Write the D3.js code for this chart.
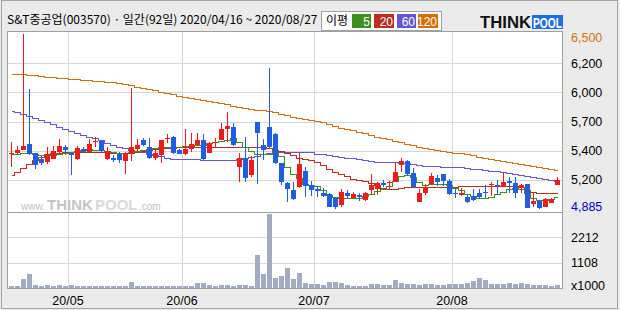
<!DOCTYPE html>
<html><head><meta charset="utf-8">
<script src="https://cdn.jsdelivr.net/npm/d3@7"></script>
<style>body{margin:0;background:#ebebeb;}svg{display:block;}</style>
</head><body>
<script>
const dates = ["04/16","04/17","04/20","04/21","04/22","04/23","04/24","04/27","04/28","04/29",
"05/04","05/06","05/07","05/08","05/11","05/12","05/13","05/14","05/15","05/18","05/19","05/20","05/21","05/22","05/25","05/26","05/27","05/28","05/29",
"06/01","06/02","06/03","06/04","06/05","06/08","06/09","06/10","06/11","06/12","06/15","06/16","06/17","06/18","06/19","06/22","06/23","06/24","06/25","06/26","06/29","06/30",
"07/01","07/02","07/03","07/06","07/07","07/08","07/09","07/10","07/13","07/14","07/15","07/16","07/17","07/20","07/21","07/22","07/23","07/24","07/27","07/28","07/29","07/30","07/31",
"08/03","08/04","08/05","08/06","08/07","08/10","08/11","08/12","08/13","08/14","08/18","08/19","08/20","08/21","08/24","08/25","08/26","08/27"];
const open  = [5390,5400,5425,5485,5405,5345,5318,5350,5410,5460,5400,5345,5440,5410,5500,5512,5345,5360,5390,5330,5405,5442,5520,5460,5358,5385,5535,5550,5430,5390,5435,5475,5525,5405,5500,5522,5625,5640,5275,5355,5200,5690,5475,5640,5580,5305,5122,5060,5090,5235,5107,5065,5035,5023,4985,4922,5035,4985,5015,4968,5060,5068,5122,5125,5137,5290,5330,5215,4952,5030,5115,5175,5208,5143,5030,5010,4998,5008,5030,5045,5110,5110,5090,5143,5122,5075,5115,4930,4962,4900,4943,5106];
const high  = [5500,5470,6500,5992,5405,5370,5457,5467,5530,5480,5410,5470,5460,5530,5545,5520,5460,5385,5415,5410,6000,5530,5540,5540,5430,5520,5580,5560,5440,5620,5590,5590,5580,5500,5540,5680,5780,5675,5400,5545,5370,5690,5530,6190,5590,5310,5130,5130,5405,5275,5145,5100,5080,5030,5000,5070,5060,5040,5035,5040,5205,5135,5150,5140,5310,5360,5335,5260,5070,5120,5220,5200,5210,5160,5070,5075,5014,5067,5073,5106,5130,5153,5220,5183,5183,5115,5120,5030,4970,4990,4990,5183];
const low   = [5270,5395,5425,5383,5250,5290,5300,5350,5390,5380,5200,5340,5415,5410,5455,5410,5335,5320,5310,5205,5330,5415,5470,5350,5335,5310,5495,5395,5390,5385,5415,5470,5340,5400,5460,5520,5500,5470,5130,5135,5180,5115,5337,5450,5300,5105,4945,4970,5080,4998,5005,4998,5000,4900,4885,4905,4985,4985,4960,4960,5014,5015,5090,5065,5130,5230,5190,5085,4950,5010,5110,5100,5100,5015,4985,5005,4937,4960,4980,4983,5005,5014,5085,5030,4983,5030,4895,4906,4885,4900,4940,5106];
const close = [5400,5430,5465,5392,5290,5310,5390,5420,5466,5430,5385,5450,5415,5485,5515,5423,5420,5335,5340,5405,5455,5475,5475,5358,5400,5520,5540,5400,5392,5435,5485,5525,5350,5490,5505,5625,5650,5475,5360,5170,5337,5585,5430,5455,5305,5137,5065,4975,5300,5097,5060,5055,5005,4905,4905,5040,5008,5023,4993,5030,5106,5128,5106,5130,5230,5330,5208,5090,5030,5090,5190,5138,5146,5020,5020,5030,4952,4968,4998,5038,5118,5100,5137,5122,5030,5106,4898,4962,4890,4975,4975,5153];
const volume = [87,87,393,612,131,87,131,87,131,87,131,87,87,87,87,87,87,87,87,87,262,87,87,87,87,87,87,87,87,87,87,219,219,131,87,131,131,87,131,131,87,1442,612,3234,437,524,874,393,656,219,175,175,131,277,277,233,131,87,87,87,175,175,131,131,364,219,175,175,131,175,175,131,131,175,175,175,233,306,437,350,175,175,175,233,175,233,175,131,131,131,87,131];
const ma5   = [5392,5397,5399,5399,5392,5379,5379,5383,5397,5406,5414,5420,5429,5436,5434,5429,5423,5411,5406,5406,5411,5420,5434,5443,5452,5457,5460,5460,5460,5462,5471,5476,5480,5494,5499,5513,5526,5536,5504,5457,5416,5397,5397,5397,5420,5374,5273,5208,5171,5116,5102,5093,5060,5014,4996,4991,4986,4984,4991,5005,5023,5051,5067,5097,5139,5185,5203,5183,5130,5106,5116,5120,5116,5102,5083,5060,5028,5005,4986,4991,5000,5023,5046,5065,5083,5074,5030,4986,4968,4968,4977,4998];
const ma20  = [5199,5231,5263,5296,5337,5369,5388,5402,5406,5408,5408,5408,5408,5408,5408,5408,5408,5406,5406,5404,5406,5411,5420,5429,5439,5445,5448,5452,5454,5454,5454,5456,5457,5458,5458,5459,5460,5460,5460,5457,5454,5457,5457,5448,5434,5416,5402,5383,5360,5346,5333,5319,5291,5254,5229,5208,5190,5166,5153,5143,5125,5102,5079,5072,5074,5079,5085,5088,5090,5091,5091,5091,5091,5091,5091,5094,5097,5097,5097,5097,5097,5097,5097,5097,5097,5092,5060,5045,5035,5030,5030,5030];
const ma60  = [5791,5776,5762,5743,5725,5705,5686,5665,5644,5621,5603,5585,5568,5551,5536,5518,5496,5475,5456,5444,5433,5420,5407,5394,5383,5372,5359,5351,5348,5345,5344,5342,5339,5337,5337,5337,5337,5339,5346,5356,5365,5374,5393,5406,5411,5414,5414,5414,5414,5413,5411,5397,5390,5380,5373,5367,5360,5353,5344,5334,5328,5323,5321,5318,5315,5312,5307,5300,5293,5286,5282,5279,5277,5274,5273,5270,5263,5258,5252,5245,5239,5233,5225,5215,5206,5197,5188,5178,5169,5160,5152,5146];
const ma120 = [6135,6133,6130,6126,6119,6112,6106,6101,6097,6092,6088,6084,6078,6074,6069,6064,6060,6054,6049,6040,6027,6015,6003,5991,5980,5969,5957,5946,5932,5919,5906,5898,5891,5883,5872,5861,5850,5839,5829,5819,5810,5803,5797,5789,5778,5764,5751,5738,5725,5712,5703,5697,5688,5669,5651,5637,5625,5612,5600,5586,5572,5554,5540,5528,5516,5503,5488,5473,5457,5447,5439,5429,5421,5414,5406,5398,5388,5379,5369,5358,5347,5336,5326,5317,5308,5298,5291,5284,5276,5265,5254,5245];
const priceGridValues = [6231,5962,5692,5423,5154];
const priceGridLabels = ["6,200","6,000","5,700","5,400","5,200"];
const priceMax = 6500, priceMin = 4885;
const volGridValues = [2212,1108];
const volGridLabels = ["2212","1108"];
const volUnitLabel = "x1000";
const monthTickDates = ["05/04","06/01","07/01","08/03"];
const monthTickLabels = ["20/05","20/06","20/07","20/08"];
const titleText = "S&T중공업(003570) · 일간(92일) 2020/04/16 ~ 2020/08/27";
const maNames = ["5","20","60","120"];
const maColors = ["#3f8f1e","#c32a22","#6656d6","#d86e08"];

const W=620,H=310;
const svg=d3.select("body").append("svg").attr("width",W).attr("height",H);
const L=8,R=562,PT=32,PB=212,VB=288;
svg.append("rect").attr("x",0).attr("y",0).attr("width",W).attr("height",H).attr("fill","#ebebeb");
svg.append("rect").attr("x",1.5).attr("y",0.5).attr("width",616).attr("height",308).attr("fill","none").attr("stroke","#a4a4a4");
svg.append("rect").attr("x",L).attr("y",PT).attr("width",R-L).attr("height",VB-PT).attr("fill","#fff");

const x=d3.scaleBand().domain(dates).range([8,560]);
const y=d3.scaleLinear().domain([priceMin,priceMax]).range([209,34]);
const yv=d3.scaleLinear().domain([0,3322]).range([VB,212]);
const cx=d=>x(d)+3;

const grid=svg.append("g").attr("stroke","#d6d6d6").attr("shape-rendering","crispEdges");
priceGridValues.forEach(v=>{const yy=Math.round(y(v))+0.5;grid.append("line").attr("x1",L).attr("x2",R).attr("y1",yy).attr("y2",yy);});
volGridValues.forEach(v=>{const yy=Math.round(yv(v))+0.5;grid.append("line").attr("x1",L).attr("x2",R).attr("y1",yy).attr("y2",yy);});
monthTickDates.forEach(d=>{const xx=x(d)+0.5;grid.append("line").attr("x1",xx).attr("x2",xx).attr("y1",PT).attr("y2",VB);});

// watermark: separate pieces at natural widths with small gaps
const wmF="Liberation Sans, Arial, sans-serif";
const wmParts=[["www.",21,10,"normal","#c2c2c2"],["THINK",47,15,"bold","#c4c4c4"],["POOL",95,15,"bold","#dadada"],[".com",139,10,"normal","#c2c2c2"]];
wmParts.forEach(p=>svg.append("text").attr("x",p[1]).attr("y",210).attr("font-family",wmF).attr("font-size",p[2]).attr("font-weight",p[3]).attr("fill",p[4]).text(p[0]));

// volume
svg.append("g").selectAll("rect").data(volume).join("rect")
 .attr("x",(v,i)=>x(dates[i])+1).attr("width",5)
 .attr("y",v=>Math.round(yv(v))).attr("height",v=>VB-Math.round(yv(v)))
 .attr("fill","#a3abc2").attr("shape-rendering","crispEdges");

// MA lines
svg.append("clipPath").attr("id","pc").append("rect").attr("x",L).attr("y",PT).attr("width",R-L).attr("height",PB-PT);
const mas=[ma5,ma20,ma60,ma120];
const maG=svg.append("g").attr("clip-path","url(#pc)");
[3,2,1,0].forEach(k=>{
 const line=d3.line().x((v,i)=>cx(dates[i])+0.5).y(v=>Math.round(y(v))+0.5).curve(d3.curveStep);
 maG.append("path").attr("d",line(mas[k])).attr("fill","none").attr("stroke",maColors[k]).attr("stroke-width",1).attr("shape-rendering","crispEdges");
});

// candles
const cg=svg.append("g").attr("shape-rendering","crispEdges");
dates.forEach((d,i)=>{
 const up=close[i]>=open[i];
 const col=up?"#ee1b1b":"#1f5ee2";
 const yh=Math.round(y(high[i])), yl=Math.round(y(low[i]));
 cg.append("rect").attr("x",cx(d)).attr("width",1).attr("y",yh).attr("height",Math.max(1,yl-yh)).attr("fill",col);
 const y1=Math.round(y(Math.max(open[i],close[i]))), y2=Math.round(y(Math.min(open[i],close[i])));
 cg.append("rect").attr("x",x(d)+1).attr("width",5).attr("y",y1).attr("height",Math.max(1,y2-y1)).attr("fill",col);
});

// borders
const bg=svg.append("g").attr("stroke","#a0a0a0").attr("fill","none").attr("shape-rendering","crispEdges");
bg.append("rect").attr("x",7.5).attr("y",31.5).attr("width",R-7.5+0.5).attr("height",VB-31.5+0.5);
bg.append("line").attr("x1",7.5).attr("x2",R+0.5).attr("y1",PB+0.5).attr("y2",PB+0.5);

// axis labels
const lab=svg.append("g").attr("font-family","Liberation Sans, Arial, sans-serif").attr("font-size",12.5);
lab.append("text").attr("x",571).attr("y",y(priceMax)+8).attr("fill","#d0700c").text("6,500");
priceGridValues.forEach((v,i)=>lab.append("text").attr("x",571).attr("y",y(v)+4.5).attr("fill","#000").text(priceGridLabels[i]));
lab.append("text").attr("x",571).attr("y",y(priceMin)+1.5).attr("fill","#0000c8").text("4,885");
volGridValues.forEach((v,i)=>lab.append("text").attr("x",571).attr("y",yv(v)+4.5).attr("fill","#000").text(volGridLabels[i]));
lab.append("text").attr("x",571).attr("y",290).attr("fill","#000").text(volUnitLabel);
monthTickDates.forEach((d,i)=>lab.append("text").attr("x",x(d)).attr("y",305).attr("text-anchor","middle").text(monthTickLabels[i]));

// header
svg.append("text").attr("x",7).attr("y",24).attr("font-family","Noto Sans CJK KR, sans-serif").attr("font-size",12).attr("fill","#000").text(titleText);
svg.append("rect").attr("x",321.5).attr("y",11.5).attr("width",120).attr("height",19).attr("fill","#fff").attr("stroke","#a0a0a0");
svg.append("text").attr("x",326).attr("y",25).attr("font-family","Noto Sans CJK KR, sans-serif").attr("font-size",12).text("이평");
const boxes=[[352,19],[374,20],[397,19],[418,20]];
boxes.forEach((b,k)=>{
 svg.append("rect").attr("x",b[0]).attr("y",14).attr("width",b[1]).attr("height",14).attr("fill",maColors[k]);
 svg.append("text").attr("x",b[0]+b[1]-1).attr("y",25.5).attr("text-anchor","end").attr("font-family","Liberation Sans, Arial, sans-serif").attr("font-size",12).attr("fill","#fff").text(maNames[k]);
});
// logo
svg.append("text").attr("x",480).attr("y",28).attr("font-family","Liberation Sans, Arial, sans-serif").attr("font-weight","bold").attr("font-size",16).attr("textLength",51).attr("lengthAdjust","spacingAndGlyphs").attr("fill","#111").text("THINK");
svg.append("rect").attr("x",532).attr("y",15).attr("width",31).attr("height",14).attr("fill","#1e6ee6");
svg.append("text").attr("x",533).attr("y",28).attr("font-family","Liberation Sans, Arial, sans-serif").attr("font-weight","bold").attr("font-size",15).attr("textLength",29).attr("lengthAdjust","spacingAndGlyphs").attr("fill","#fff").text("POOL");
</script>
</body></html>
